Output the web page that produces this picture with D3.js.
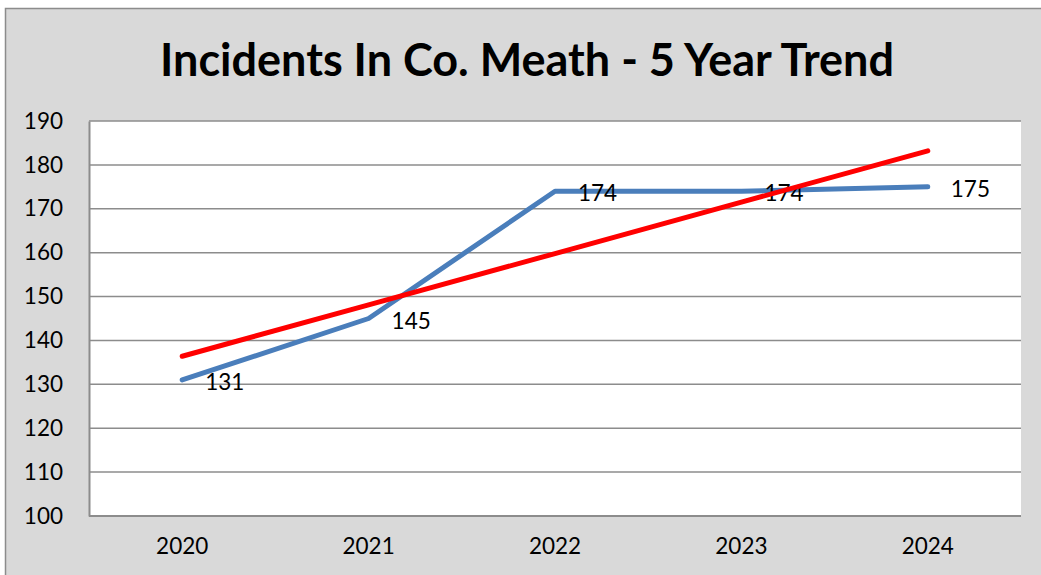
<!DOCTYPE html>
<html>
<head>
<meta charset="utf-8">
<script src="https://cdn.jsdelivr.net/npm/d3@7"></script>
<style>
  body { margin: 0; background: #fff; }
  svg { display: block; font-family: Lato, "Open Sans", sans-serif; }
</style>
</head>
<body>
<svg id="chart" width="1041" height="575"></svg>
<script>
/* data */
const years = ['2020', '2021', '2022', '2023', '2024'];
const incidents = [131, 145, 174, 174, 175];
const yTicks = [100, 110, 120, 130, 140, 150, 160, 170, 180, 190];

/* linear trendline (least squares, like Excel) */
const mx = d3.mean(incidents, (d, i) => i), my = d3.mean(incidents);
const slope = d3.sum(incidents, (d, i) => (i - mx) * (d - my)) / d3.sum(incidents, (d, i) => (i - mx) ** 2);
const trend = years.map((y, i) => my + slope * (i - mx));

const svg = d3.select('#chart');
const W = 1041, H = 575;
const m = { left: 89, right: 20, top: 121, bottom: 59 };
const fs = 22.5;

/* chart background */
svg.append('rect').attr('x', 5.5).attr('y', 8.5).attr('width', W).attr('height', H)
  .attr('fill', '#d9d9d9').attr('stroke', '#8c8c8c').attr('stroke-width', 1.5);

svg.append('text').attr('x', 527).attr('y', 76).attr('text-anchor', 'middle')
  .attr('font-size', 45).attr('font-weight', 'bold').attr('fill', '#000')
  .text('Incidents In Co. Meath - 5 Year Trend');

const x = d3.scaleBand().domain(years).range([m.left, W - m.right]);
const y = d3.scaleLinear().domain([100, 190]).range([H - m.bottom, m.top]);

svg.append('rect').attr('x', m.left).attr('y', m.top)
  .attr('width', x.range()[1] - m.left).attr('height', y(100) - m.top).attr('fill', '#fff');

/* gridlines */
svg.append('g').selectAll('line').data(yTicks.slice(1)).join('line')
  .attr('x1', m.left).attr('x2', x.range()[1])
  .attr('y1', d => y(d)).attr('y2', d => y(d))
  .attr('stroke', '#8c8c8c').attr('stroke-width', 1.5);

/* axes */
const yAxis = svg.append('g').attr('transform', `translate(${m.left},0)`)
  .call(d3.axisLeft(y).tickValues(yTicks).tickSize(0).tickPadding(26));
const xAxis = svg.append('g').attr('transform', `translate(0,${y(100)})`)
  .call(d3.axisBottom(x).tickSize(0).tickPadding(22));
[yAxis, xAxis].forEach(a => {
  a.select('.domain').attr('stroke', '#8c8c8c').attr('stroke-width', 2);
  a.selectAll('text').attr('font-size', fs).attr('fill', '#000').attr('font-family', 'Lato, sans-serif');
});
xAxis.select('.domain').attr('d', `M${m.left},0H${x.range()[1]}`);

const cx = d => x(d) + x.bandwidth() / 2;

/* incidents line */
svg.append('path').datum(incidents)
  .attr('d', d3.line().x((d, i) => cx(years[i])).y(d => y(d)))
  .attr('fill', 'none').attr('stroke', '#4a7ebb').attr('stroke-width', 5)
  .attr('stroke-linecap', 'round').attr('stroke-linejoin', 'round');

/* data labels */
svg.append('g').selectAll('text').data(incidents).join('text')
  .attr('x', (d, i) => cx(years[i]) + 23).attr('y', d => y(d) + 10)
  .attr('font-size', fs).attr('fill', '#000').text(d => d);

/* trendline */
svg.append('path').datum(trend)
  .attr('d', d3.line().x((d, i) => cx(years[i])).y(d => y(d)))
  .attr('fill', 'none').attr('stroke', '#ff0000').attr('stroke-width', 5)
  .attr('stroke-linecap', 'round');
</script>
</body>
</html>
